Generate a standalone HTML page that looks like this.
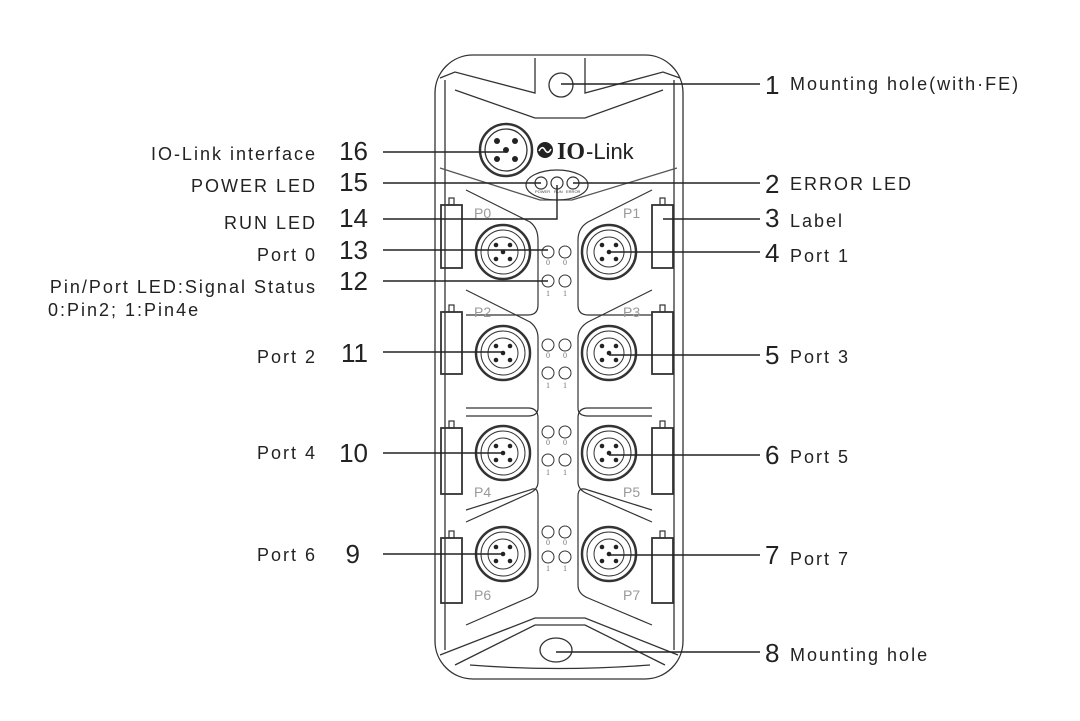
<!DOCTYPE html>
<html><head><meta charset="utf-8"><style>
html,body{margin:0;padding:0;background:#fff;}
svg{display:block;}
.t{font-family:"Liberation Sans",sans-serif;font-size:18px;fill:#222;letter-spacing:2px;}
.n{font-family:"Liberation Sans",sans-serif;font-size:26px;fill:#222;}
.p{font-family:"Liberation Sans",sans-serif;font-size:14px;fill:#999;}
.s{font-family:"Liberation Serif",serif;font-size:8px;fill:#777;}
</style></head><body>
<svg width="1080" height="721" viewBox="0 0 1080 721" xmlns="http://www.w3.org/2000/svg">
<g fill="none" stroke="#333" stroke-width="1.3">
<rect x="435" y="55" width="248" height="624" rx="38"/>
<path d="M445 80 V650 M674 80 V650"/>
<path d="M440 78 L455 72 L535 93 V58 M585 58 V93 L663 72 L680 78"/>
<path d="M455 90 L535 118 L585 118 L663 90"/>
<path d="M440 168 L540 200 L572 200 L677 168" stroke="#555"/>
<path d="M440 655 L535 618 H585 L678 655"/>
<path d="M455 665 L535 625 H585 L665 665"/>
<path d="M470 665 Q558 672 650 665"/>
<circle cx="561" cy="85" r="12"/>
<ellipse cx="556" cy="650" rx="16" ry="12"/>
<circle cx="506" cy="150" r="26" stroke-width="2.5"/>
<circle cx="506" cy="150" r="21"/>
</g>
<g fill="#222">
<circle cx="506" cy="150" r="3"/><circle cx="497" cy="141" r="3"/><circle cx="515" cy="141" r="3"/><circle cx="497" cy="159" r="3"/><circle cx="515" cy="159" r="3"/>
<circle cx="545" cy="150" r="8"/>
</g>
<path d="M539 151 q3 -6 6 -1 q3 5 6 -1" stroke="#fff" stroke-width="1.6" fill="none"/>
<text x="557" y="159" font-family="Liberation Serif,serif" font-weight="bold" font-size="24" fill="#222">IO</text>
<text x="586" y="159" font-family="Liberation Sans,sans-serif" font-size="22" fill="#222">-Link</text>
<g fill="none" stroke="#333" stroke-width="1.2">
<ellipse cx="557" cy="185" rx="31" ry="15"/>
<circle cx="541" cy="183" r="6"/><circle cx="557" cy="183" r="6"/><circle cx="573" cy="183" r="6"/>
</g>
<g font-family="Liberation Sans,sans-serif" font-size="4" fill="#444"><text x="535" y="193">POWER</text><text x="554" y="193">RUN</text><text x="566" y="193">ERROR</text></g>

<g fill="none" stroke="#333" stroke-width="1.2">
<path d="M466 190 L530 222 Q538 228 538 240 V305 Q538 315 528 315 H466"/>
<path d="M652 190 L588 222 Q578 228 578 240 V305 Q578 315 588 315 H652"/>
<path d="M466 290 L530 322 Q538 328 538 338 V408 Q538 416 528 416 H466"/>
<path d="M652 290 L588 322 Q578 328 578 338 V408 Q578 416 588 416 H652"/>
<path d="M466 408 H528 Q538 408 538 418 V482 Q538 490 528 494 L466 522"/>
<path d="M652 408 H588 Q578 408 578 418 V482 Q578 490 588 494 L652 522"/>
<path d="M466 510 L530 490 Q538 486 538 496 V585 Q538 594 528 598 L466 625"/>
<path d="M652 510 L588 490 Q578 486 578 496 V585 Q578 594 588 598 L652 625"/>
<rect x="441" y="205" width="21" height="63" stroke-width="1.8"/><rect x="652" y="205" width="21" height="63" stroke-width="1.8"/>
<rect x="441" y="312" width="21" height="62" stroke-width="1.8"/><rect x="652" y="312" width="21" height="62" stroke-width="1.8"/>
<rect x="441" y="428" width="21" height="66" stroke-width="1.8"/><rect x="652" y="428" width="21" height="66" stroke-width="1.8"/>
<rect x="441" y="538" width="21" height="65" stroke-width="1.8"/><rect x="652" y="538" width="21" height="65" stroke-width="1.8"/>
<rect x="449" y="198" width="5" height="7"/><rect x="660" y="198" width="5" height="7"/>
<rect x="449" y="305" width="5" height="7"/><rect x="660" y="305" width="5" height="7"/>
<rect x="449" y="421" width="5" height="7"/><rect x="660" y="421" width="5" height="7"/>
<rect x="449" y="531" width="5" height="7"/><rect x="660" y="531" width="5" height="7"/>
</g>
<g fill="none" stroke="#333">
<g stroke-width="2.5"><circle cx="503" cy="252" r="27"/><circle cx="609" cy="252" r="27"/><circle cx="503" cy="353" r="27"/><circle cx="609" cy="353" r="27"/><circle cx="503" cy="453" r="27"/><circle cx="609" cy="453" r="27"/><circle cx="503" cy="554" r="27"/><circle cx="609" cy="554" r="27"/></g>
<g stroke-width="1"><circle cx="503" cy="252" r="22"/><circle cx="609" cy="252" r="22"/><circle cx="503" cy="353" r="22"/><circle cx="609" cy="353" r="22"/><circle cx="503" cy="453" r="22"/><circle cx="609" cy="453" r="22"/><circle cx="503" cy="554" r="22"/><circle cx="609" cy="554" r="22"/>
<circle cx="503" cy="252" r="15"/><circle cx="609" cy="252" r="15"/><circle cx="503" cy="353" r="15"/><circle cx="609" cy="353" r="15"/><circle cx="503" cy="453" r="15"/><circle cx="609" cy="453" r="15"/><circle cx="503" cy="554" r="15"/><circle cx="609" cy="554" r="15"/></g>
<g stroke-width="1"><circle cx="548" cy="252" r="6"/><circle cx="565" cy="252" r="6"/><circle cx="548" cy="281" r="6"/><circle cx="565" cy="281" r="6"/>
<circle cx="548" cy="345" r="6"/><circle cx="565" cy="345" r="6"/><circle cx="548" cy="373" r="6"/><circle cx="565" cy="373" r="6"/>
<circle cx="548" cy="432" r="6"/><circle cx="565" cy="432" r="6"/><circle cx="548" cy="460" r="6"/><circle cx="565" cy="460" r="6"/>
<circle cx="548" cy="532" r="6"/><circle cx="565" cy="532" r="6"/><circle cx="548" cy="557" r="6"/><circle cx="565" cy="557" r="6"/></g>
</g>
<g fill="#222">
<g id="pins">
<circle cx="503" cy="252" r="2.3"/><circle cx="496" cy="245" r="2.3"/><circle cx="510" cy="245" r="2.3"/><circle cx="496" cy="259" r="2.3"/><circle cx="510" cy="259" r="2.3"/>
</g>
<use href="#pins" x="106"/><use href="#pins" y="101"/><use href="#pins" x="106" y="101"/><use href="#pins" y="201"/><use href="#pins" x="106" y="201"/><use href="#pins" y="302"/><use href="#pins" x="106" y="302"/>
</g>
<g class="s">
<text x="546" y="265">0</text><text x="563" y="265">0</text><text x="546" y="296">1</text><text x="563" y="296">1</text>
<text x="546" y="358">0</text><text x="563" y="358">0</text><text x="546" y="388">1</text><text x="563" y="388">1</text>
<text x="546" y="445">0</text><text x="563" y="445">0</text><text x="546" y="475">1</text><text x="563" y="475">1</text>
<text x="546" y="545">0</text><text x="563" y="545">0</text><text x="546" y="571">1</text><text x="563" y="571">1</text>
</g>
<g class="p">
<text x="474" y="218">P0</text><text x="623" y="218">P1</text>
<text x="474" y="317">P2</text><text x="623" y="317">P3</text>
<text x="474" y="497">P4</text><text x="623" y="497">P5</text>
<text x="474" y="600">P6</text><text x="623" y="600">P7</text>
</g>

<g stroke="#222" stroke-width="1.4" fill="none">
<path d="M383 152 H505"/><path d="M383 183 H541"/><path d="M383 219 H557 V185"/>
<path d="M383 250 H548"/><path d="M383 281 H548"/>
<path d="M383 352 H503"/><path d="M383 453 H503"/><path d="M383 554 H503"/>
<path d="M561 84 H760"/><path d="M573 183 H760"/><path d="M663 219 H760"/>
<path d="M609 252 H760"/><path d="M609 355 H760"/><path d="M609 455 H760"/><path d="M609 555 H760"/><path d="M556 652 H760"/>
</g>

<g class="t" text-anchor="end">
<text x="317" y="160">IO-Link interface</text>
<text x="317" y="192">POWER LED</text>
<text x="317" y="229">RUN LED</text>
<text x="317" y="261">Port 0</text>
<text x="317" y="293">Pin/Port LED:Signal Status</text>
<text x="317" y="363">Port 2</text>
<text x="317" y="459">Port 4</text>
<text x="317" y="561">Port 6</text>
</g>
<text class="t" x="48" y="316">0:Pin2; 1:Pin4e</text>
<g class="n" text-anchor="end">
<text x="368" y="160">16</text><text x="368" y="191">15</text><text x="368" y="227">14</text>
<text x="368" y="259">13</text><text x="368" y="290">12</text><text x="368" y="362">11</text>
<text x="368" y="462">10</text><text x="360" y="563">9</text>
</g>
<g class="n">
<text x="765" y="94">1</text><text x="765" y="193">2</text><text x="765" y="227">3</text>
<text x="765" y="262">4</text><text x="765" y="364">5</text><text x="765" y="464">6</text>
<text x="765" y="564">7</text><text x="765" y="662">8</text>
</g>
<g class="t">
<text x="790" y="90">Mounting hole(with·FE)</text>
<text x="790" y="190">ERROR LED</text>
<text x="790" y="227">Label</text>
<text x="790" y="262">Port 1</text>
<text x="790" y="363">Port 3</text>
<text x="790" y="463">Port 5</text>
<text x="790" y="565">Port 7</text>
<text x="790" y="661">Mounting hole</text>
</g>
</svg>
</body></html>
